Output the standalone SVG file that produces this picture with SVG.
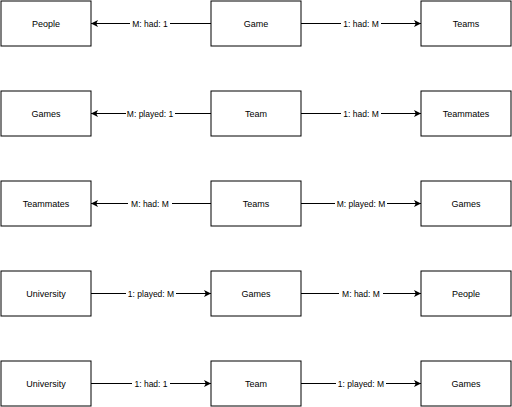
<svg xmlns="http://www.w3.org/2000/svg" width="512" height="407" viewBox="0 0 512 407">
<style>
.box{fill:#fff;stroke:#000;stroke-width:1}
.nt{font-family:"Liberation Sans",Arial,sans-serif;font-size:9px;fill:#000;text-anchor:middle;dominant-baseline:central}
.edge{stroke:#000;stroke-width:1;fill:none;marker-end:url(#arr)}
.lb{fill:#fff}
.lt{font-family:"Liberation Sans",Arial,sans-serif;font-size:8.5px;fill:#000;text-anchor:middle;dominant-baseline:central}
</style>
<defs>
<marker id="arr" viewBox="0 0 10 10" refX="10" refY="5" markerWidth="7" markerHeight="7" markerUnits="userSpaceOnUse" orient="auto">
<path d="M0,0 L10,5 L0,10 L2.5,5 Z" fill="#000"/>
</marker>
</defs>
<rect width="512" height="407" fill="#fff"/>
<g id="connectors">
<path class="edge" d="M211,23.5 L91,23.5"/>
<rect class="lb" x="130" y="18" width="40" height="11"/><text class="lt" x="150" y="23.5">M: had: 1</text>
<path class="edge" d="M301,23.5 L421,23.5"/>
<rect class="lb" x="341" y="18" width="40" height="11"/><text class="lt" x="361" y="23.5">1: had: M</text>

<path class="edge" d="M211,113.5 L91,113.5"/>
<rect class="lb" x="126" y="108" width="49" height="11"/><text class="lt" x="150" y="113.5">M: played: 1</text>
<path class="edge" d="M301,113.5 L421,113.5"/>
<rect class="lb" x="341" y="108" width="40" height="11"/><text class="lt" x="361" y="113.5">1: had: M</text>

<path class="edge" d="M211,203.5 L91,203.5"/>
<rect class="lb" x="128" y="198" width="44" height="11"/><text class="lt" x="150" y="203.5">M: had: M</text>
<path class="edge" d="M301,203.5 L421,203.5"/>
<rect class="lb" x="335" y="198" width="52" height="11"/><text class="lt" x="361" y="203.5">M: played: M</text>

<path class="edge" d="M91,293.5 L211,293.5"/>
<rect class="lb" x="126" y="288" width="50" height="11"/><text class="lt" x="151" y="293.5">1: played: M</text>
<path class="edge" d="M301,293.5 L421,293.5"/>
<rect class="lb" x="339" y="288" width="44" height="11"/><text class="lt" x="361" y="293.5">M: had: M</text>

<path class="edge" d="M91,383.5 L211,383.5"/>
<rect class="lb" x="132" y="378" width="38" height="11"/><text class="lt" x="151" y="383.5">1: had: 1</text>
<path class="edge" d="M301,383.5 L421,383.5"/>
<rect class="lb" x="336" y="378" width="50" height="11"/><text class="lt" x="361" y="383.5">1: played: M</text>
</g>
<g id="n-people1"><rect class="box" x="1" y="1" width="90" height="45"/><text class="nt" x="46" y="23.5">People</text></g>
<g id="n-game1"><rect class="box" x="211" y="1" width="90" height="45"/><text class="nt" x="256" y="23.5">Game</text></g>
<g id="n-teams1"><rect class="box" x="421" y="1" width="90" height="45"/><text class="nt" x="466" y="23.5">Teams</text></g>

<g id="n-games2"><rect class="box" x="1" y="91" width="90" height="45"/><text class="nt" x="46" y="113.5">Games</text></g>
<g id="n-team2"><rect class="box" x="211" y="91" width="90" height="45"/><text class="nt" x="256" y="113.5">Team</text></g>
<g id="n-teammates2"><rect class="box" x="421" y="91" width="90" height="45"/><text class="nt" x="466" y="113.5">Teammates</text></g>

<g id="n-teammates3"><rect class="box" x="1" y="181" width="90" height="45"/><text class="nt" x="46" y="203.5">Teammates</text></g>
<g id="n-teams3"><rect class="box" x="211" y="181" width="90" height="45"/><text class="nt" x="256" y="203.5">Teams</text></g>
<g id="n-games3"><rect class="box" x="421" y="181" width="90" height="45"/><text class="nt" x="466" y="203.5">Games</text></g>

<g id="n-university4"><rect class="box" x="1" y="271" width="90" height="45"/><text class="nt" x="46" y="293.5">University</text></g>
<g id="n-games4"><rect class="box" x="211" y="271" width="90" height="45"/><text class="nt" x="256" y="293.5">Games</text></g>
<g id="n-people4"><rect class="box" x="421" y="271" width="90" height="45"/><text class="nt" x="466" y="293.5">People</text></g>

<g id="n-university5"><rect class="box" x="1" y="361" width="90" height="45"/><text class="nt" x="46" y="383.5">University</text></g>
<g id="n-team5"><rect class="box" x="211" y="361" width="90" height="45"/><text class="nt" x="256" y="383.5">Team</text></g>
<g id="n-games5"><rect class="box" x="421" y="361" width="90" height="45"/><text class="nt" x="466" y="383.5">Games</text></g>
</svg>
